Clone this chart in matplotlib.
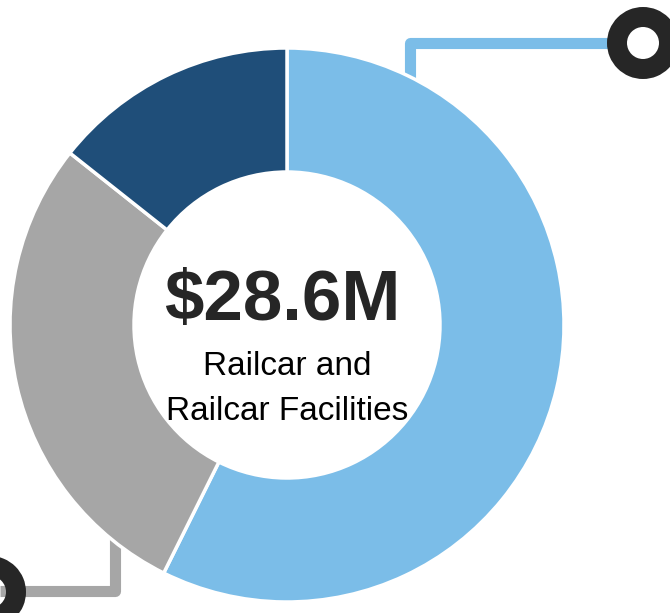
import matplotlib.pyplot as plt
from matplotlib.patches import Wedge

# spend split, $M
segments = ["Light blue", "Grey", "Navy"]
values = [16.4, 8.1, 4.1]
colors = ["#7BBDE8", "#A6A6A6", "#1F4E79"]
total_label = "$28.6M"
sub_label = ["Railcar and", "Railcar Facilities"]

W, H = 670, 613
fig = plt.figure(figsize=(W / 100, H / 100), dpi=100)
ax = fig.add_axes([0, 0, 1, 1])

cx, cy = 287, H - 325
r_out, ring = 277, 124


def line(points, color):
	xs = [p[0] for p in points]
	ys = [H - p[1] for p in points]
	ax.plot(xs, ys, color=color, lw=8, solid_joinstyle="round",
		solid_capstyle="butt", zorder=1)


def marker(x, y):
	ax.add_patch(Wedge((x, H - y), 36, 0, 360, width=20,
		facecolor="#262626", edgecolor="none", zorder=3))


# callout leaders (drawn under the donut)
line([(410, 120), (410, 43), (625, 43)], colors[0])
marker(643, 43)
line([(115, 520), (115, 591), (0, 591)], colors[1])
marker(-10, 592)

ax.pie(values, colors=colors, startangle=90, counterclock=False,
	center=(cx, cy), radius=r_out, frame=True,
	wedgeprops=dict(width=ring, edgecolor="white", linewidth=2.5, zorder=2))

ax.text(282, H - 320, total_label, ha="center", va="baseline",
	fontsize=51, fontweight="bold", color="#262626", family="Liberation Sans")
ax.text(287, H - 375, sub_label[0], ha="center", va="baseline",
	fontsize=24, color="black", family="Liberation Sans")
ax.text(287, H - 420, sub_label[1], ha="center", va="baseline",
	fontsize=24, color="black", family="Liberation Sans")

ax.set_xlim(0, W)
ax.set_ylim(0, H)
ax.set_aspect("equal")
ax.axis("off")

plt.savefig("out.png", dpi=100)
plt.close()
